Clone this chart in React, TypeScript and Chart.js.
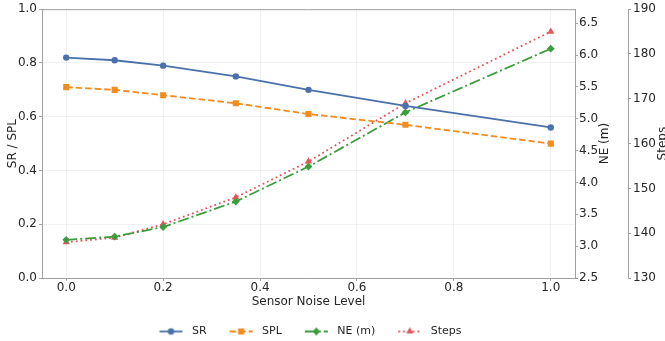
import React, { useEffect, useRef } from 'react';
import { Chart, registerables } from 'chart.js';

Chart.register(...registerables);

const noiseLevels = [0, 0.1, 0.2, 0.35, 0.5, 0.7, 1.0];
const srValues = [0.82, 0.81, 0.79, 0.75, 0.70, 0.64, 0.56];
const splValues = [0.71, 0.70, 0.68, 0.65, 0.61, 0.57, 0.50];
const neValues = [3.10, 3.15, 3.30, 3.70, 4.25, 5.10, 6.10];
const stepsValues = [138, 139, 142, 148, 156, 169, 185];

const xTicks = [0, 0.2, 0.4, 0.6, 0.8, 1.0];
const leftTicks = [0, 0.2, 0.4, 0.6, 0.8, 1.0];
const neTicks = [2.5, 3.0, 3.5, 4.0, 4.5, 5.0, 5.5, 6.0, 6.5];
const stepsTicks = [130, 140, 150, 160, 170, 180, 190];

const seriesLabels = ['SR', 'SPL', 'NE (m)', 'Steps'];
const xTitle = 'Sensor Noise Level';
const leftTitle = 'SR / SPL';
const neTitle = 'NE (m)';
const stepsTitle = 'Steps';

const FONT = "'DejaVu Sans', sans-serif";
const TEXT = '#262626';
const SPINE = '#a0a0a0';
const GRID = 'rgba(0,0,0,0.07)';
const LW = 1.8;

const styles = [
  { color: '#4a71aa', dash: [] as number[], point: 'circle', radius: 3.2 },
  { color: '#f28c1e', dash: [6.5, 3], point: 'rect', radius: 4.3 },
  { color: '#3d9c3d', dash: [11, 3, 2, 3], point: 'rectRot', radius: 3.9 },
  { color: '#e0575c', dash: [1.8, 3], point: 'triangle', radius: 4.2 },
];

function makeLegendImage(s: { color: string; dash: number[]; point: string; radius: number }) {
  const c = document.createElement('canvas');
  c.width = 41;
  c.height = 12;
  const ctx = c.getContext('2d')!;
  ctx.strokeStyle = s.color;
  ctx.fillStyle = s.color;
  ctx.lineWidth = LW;
  ctx.setLineDash(s.dash);
  ctx.beginPath();
  ctx.moveTo(14, 6);
  ctx.lineTo(37, 6);
  ctx.stroke();
  ctx.setLineDash([]);
  const cx = 25.5, cy = 6, r = s.radius;
  ctx.beginPath();
  if (s.point === 'circle') {
    ctx.arc(cx, cy, r, 0, Math.PI * 2);
  } else if (s.point === 'rect') {
    const h = r * Math.SQRT1_2;
    ctx.rect(cx - h, cy - h, 2 * h, 2 * h);
  } else if (s.point === 'rectRot') {
    ctx.moveTo(cx, cy - r);
    ctx.lineTo(cx + r, cy);
    ctx.lineTo(cx, cy + r);
    ctx.lineTo(cx - r, cy);
    ctx.closePath();
  } else {
    ctx.moveTo(cx, cy - r);
    ctx.lineTo(cx + r * 0.866, cy + r * 0.5);
    ctx.lineTo(cx - r * 0.866, cy + r * 0.5);
    ctx.closePath();
  }
  ctx.fill();
  return c;
}

const toXY = (ys: number[]) => ys.map((y, i) => ({ x: noiseLevels[i], y }));

export default function App() {
  const ref = useRef<HTMLCanvasElement>(null);

  useEffect(() => {
    const canvas = ref.current;
    if (!canvas) return;
    const images = styles.map(makeLegendImage);
    const seriesData = [srValues, splValues, neValues, stepsValues];
    const axisIds = ['y', 'y', 'y1', 'y2'];

    const layoutPlugin = {
      id: 'layoutTweaks',
      afterLayout(chart: any) {
        const lg = chart.legend;
        const ca = chart.chartArea;
        if (lg && ca) {
          const c = (ca.left + ca.right) / 2;
          const dx = c - 5 - (lg.left + lg.right) / 2;
          lg.left += dx;
          lg.right += dx;
          lg.top += 6;
          lg.bottom += 6;
        }
      },
      afterDraw(chart: any) {
        const ctx = chart.ctx;
        const ca = chart.chartArea;
        ctx.save();
        ctx.strokeStyle = SPINE;
        ctx.lineWidth = 1;
        ctx.beginPath();
        ctx.moveTo(ca.left, ca.top + 0.5);
        ctx.lineTo(ca.right, ca.top + 0.5);
        ctx.stroke();
        ctx.fillStyle = TEXT;
        ctx.font = `12px ${FONT}`;
        ctx.textAlign = 'center';
        ctx.textBaseline = 'middle';
        const titles = [
          { id: 'y1', text: neTitle, off: 30 },
          { id: 'y2', text: stepsTitle, off: 35 },
        ];
        titles.forEach((t) => {
          const s = chart.scales[t.id];
          ctx.save();
          ctx.translate(s.left + t.off, (s.top + s.bottom) / 2);
          ctx.rotate(-Math.PI / 2);
          ctx.fillText(t.text, 0, 0);
          ctx.restore();
        });
        ctx.restore();
      },
    };

    const tickFont = { family: FONT, size: 12 };
    const commonGrid = { color: GRID, lineWidth: 0.8, tickColor: SPINE, tickLength: 3, tickWidth: 1 };
    const border = { color: SPINE, width: 1 };

    const chart = new Chart(canvas, {
      type: 'line',
      data: {
        datasets: seriesLabels.map((label, i) => ({
          label,
          data: toXY(seriesData[i]),
          yAxisID: axisIds[i],
          borderColor: styles[i].color,
          backgroundColor: styles[i].color,
          borderWidth: LW,
          borderDash: styles[i].dash,
          pointStyle: styles[i].point as any,
          pointRadius: styles[i].radius,
          pointBorderWidth: 0,
          pointBackgroundColor: styles[i].color,
          tension: 0,
          fill: false,
        })),
      },
      options: {
        animation: false,
        responsive: false,
        devicePixelRatio: 1,
        layout: { padding: { top: 9, left: 0, right: 0, bottom: 0 } },
        plugins: {
          tooltip: { enabled: false },
          legend: {
            position: 'bottom',
            labels: {
              usePointStyle: true,
              pointStyleWidth: 41,
              padding: 9,
              color: TEXT,
              font: { family: FONT, size: 11 },
              generateLabels: (ch: any) => {
                const items = (Chart.defaults.plugins.legend.labels as any).generateLabels(ch);
                return items.map((it: any, i: number) => ({ ...it, pointStyle: images[i], fontColor: TEXT }));
              },
            },
          },
        },
        scales: {
          x: {
            type: 'linear',
            min: -0.05,
            max: 1.05,
            afterBuildTicks: (s: any) => { s.ticks = xTicks.map((v) => ({ value: v })); },
            afterFit: (s: any) => { s.height = 33; },
            ticks: { font: tickFont, color: TEXT, padding: 0, autoSkip: false, maxRotation: 0, callback: (v: any) => Number(v).toFixed(1) },
            grid: commonGrid,
            border,
            title: { display: true, text: xTitle, color: TEXT, font: { family: FONT, size: 12 }, padding: { top: 0, bottom: 2 } },
          },
          y: {
            type: 'linear',
            position: 'left',
            min: 0,
            max: 1,
            afterBuildTicks: (s: any) => { s.ticks = leftTicks.map((v) => ({ value: v })); },
            afterFit: (s: any) => { s.width = 42; },
            ticks: { font: tickFont, color: TEXT, padding: 2, autoSkip: false, callback: (v: any) => Number(v).toFixed(1) },
            grid: commonGrid,
            border,
            title: { display: true, text: leftTitle, color: TEXT, font: { family: FONT, size: 12 }, padding: { top: 6, bottom: 0 } },
          },
          y1: {
            type: 'linear',
            position: 'right',
            weight: 0,
            min: 2.5,
            max: 6.72,
            afterBuildTicks: (s: any) => { s.ticks = neTicks.map((v) => ({ value: v })); },
            afterFit: (s: any) => { s.width = 53; },
            ticks: { font: tickFont, color: TEXT, padding: 1, autoSkip: false, callback: (v: any) => Number(v).toFixed(1) },
            grid: { ...commonGrid, drawOnChartArea: false },
            border,
          },
          y2: {
            type: 'linear',
            position: 'right',
            weight: 1,
            min: 130,
            max: 190,
            afterBuildTicks: (s: any) => { s.ticks = stepsTicks.map((v) => ({ value: v })); },
            afterFit: (s: any) => { s.width = 47; },
            ticks: { font: tickFont, color: TEXT, padding: 2, autoSkip: false, callback: (v: any) => String(Math.round(Number(v))) },
            grid: { ...commonGrid, drawOnChartArea: false },
            border,
          },
        },
      } as any,
      plugins: [layoutPlugin],
    });
    return () => chart.destroy();
  }, []);

  return (
    <div style={{ position: 'fixed', left: 0, top: 0, width: 665, height: 341, overflow: 'hidden', background: '#fff' }}>
      <canvas ref={ref} width={675} height={341} style={{ display: 'block', width: 675, height: 341 }} />
    </div>
  );
}
